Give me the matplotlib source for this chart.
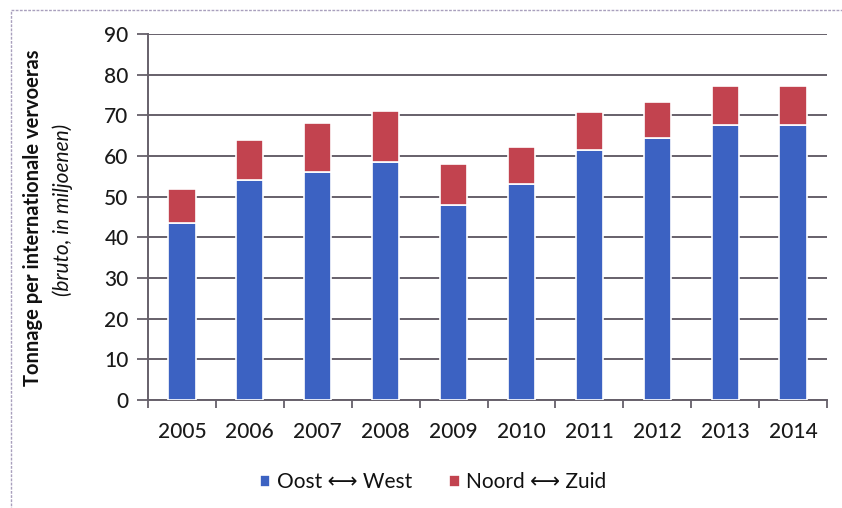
import matplotlib
matplotlib.use("Agg")
import matplotlib.pyplot as plt
from matplotlib.patches import Rectangle
import numpy as np

years = ["2005", "2006", "2007", "2008", "2009", "2010", "2011", "2012", "2013", "2014"]
oost_west = [43.5, 54.0, 56.0, 58.5, 48.0, 53.0, 61.5, 64.5, 67.7, 67.7]
noord_zuid = [8.5, 10.0, 12.0, 12.6, 10.0, 9.3, 9.2, 8.8, 9.6, 9.6]
yticks = [0, 10, 20, 30, 40, 50, 60, 70, 80, 90]

blue = "#3c62c2"
red = "#c2434f"
grid_c = "#66606a"
FONT = ["Lato", "DejaVu Sans"]
plt.rcParams["font.family"] = FONT

W, H = 842, 508
fig = plt.figure(figsize=(W / 100, H / 100), dpi=100)
fig.patch.set_facecolor("white")

# outer border
fig.patches.append(Rectangle((11 / W, -0.01), 1.02, 1 - 10 / H + 0.01,
                             transform=fig.transFigure, fill=False,
                             edgecolor="#a9a0bd", linewidth=1.0, linestyle=(0, (2, 1))))

ax = fig.add_axes([148 / W, 1 - 400 / H, (827 - 148) / W, (400 - 34) / H])
x = np.arange(len(years))
bw = 0.40
ax.bar(x, oost_west, bw, color=blue, edgecolor="white", linewidth=1.2, zorder=3,
       label="Oost \u27f7 West")
ax.bar(x, noord_zuid, bw, bottom=oost_west, color=red, edgecolor="white", linewidth=1.2,
       zorder=3, label="Noord \u27f7 Zuid")

ax.set_xlim(-0.5, len(years) - 0.5)
ax.set_ylim(0, 90)
ax.set_yticks(yticks)
ax.set_yticklabels([str(v) for v in yticks], fontsize=15, color="#1a1a1a", fontweight="medium")
ax.tick_params(axis="y", length=8, width=1.3, color=grid_c, pad=6)
ax.set_xticks(x)
ax.set_xticklabels(years, fontsize=15, color="#1a1a1a", fontweight="medium")
ax.tick_params(axis="x", length=0, pad=16)
ax.set_xticks(np.arange(len(years) + 1) - 0.5, minor=True)
ax.tick_params(axis="x", which="minor", length=6, width=1.3, color=grid_c)

ax.yaxis.grid(True, color=grid_c, linewidth=1.4, zorder=0)
ax.set_axisbelow(True)
for s in ["top", "right"]:
    ax.spines[s].set_visible(False)
for s in ["left", "bottom"]:
    ax.spines[s].set_color(grid_c)
    ax.spines[s].set_linewidth(1.4)

fig.text(33 / W, 1 - 218 / H, "Tonnage per internationale vervoeras", rotation=90,
         ha="center", va="center", fontsize=14.5, fontweight="bold", color="#111111")
fig.text(63 / W, 1 - 210 / H, "(bruto, in miljoenen)", rotation=90,
         ha="center", va="center", fontsize=15, fontstyle="italic", color="#111111")

leg = fig.legend(loc="center", bbox_to_anchor=(433 / W, 1 - 482 / H), ncol=2,
                 frameon=False, fontsize=15, handlelength=0.5, handleheight=0.5,
                 handletextpad=0.3, columnspacing=1.8)
for t in leg.get_texts():
    t.set_color("#111111")

fig.savefig("out.png", dpi=100, facecolor="white")
